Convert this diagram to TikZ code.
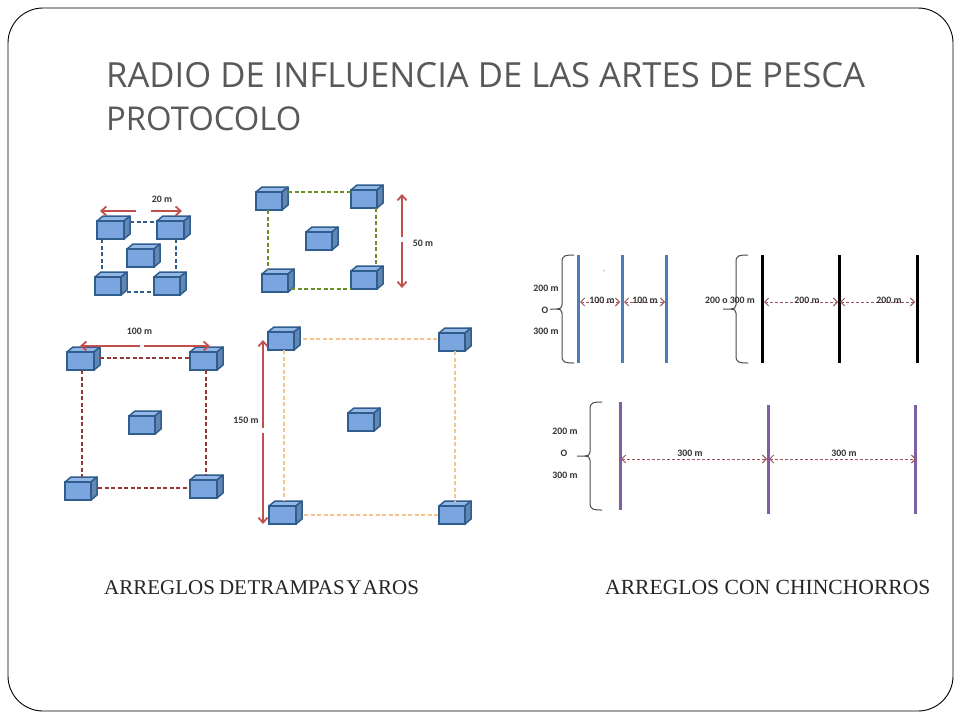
\documentclass[tikz,border=0pt]{standalone}
\usepackage{fontspec}
\setmainfont{Liberation Serif}
\newfontfamily\titlefont{Open Sans}
\newfontfamily\labelfont{Carlito}
\usetikzlibrary{arrows.meta}
\definecolor{cubefront}{HTML}{7BA5DE}
\definecolor{cubetop}{HTML}{95B7E6}
\definecolor{cubeside}{HTML}{6387B3}
\definecolor{cubeline}{HTML}{2F5D8E}
\definecolor{titlegray}{HTML}{595959}
\definecolor{dblue}{HTML}{2F5D8E}
\definecolor{dgreen}{HTML}{6B8E2A}
\definecolor{dred}{HTML}{953735}
\definecolor{dorange}{HTML}{F9C58E}
\definecolor{redarrow}{HTML}{C0504D}
\definecolor{thinarrow}{HTML}{A0525A}
\definecolor{lineblue}{HTML}{4A7EBB}
\definecolor{linepurple}{HTML}{7D5FA8}
\tikzset{
  x=1pt,y=-1pt,
  cubenode/.style={draw=cubeline,fill=cubefront,line width=1.5pt,inner sep=0pt,outer sep=0pt,minimum width=#1,minimum height=18pt,anchor=north west},
  cubenode/.default=26pt,
  cubeface/.style={draw=cubeline,line width=1.5pt,line join=round},
  gap/.style={dash pattern=on 4pt off 2.5pt,line width=#1},
  gap/.default=1.4pt,
  redarr/.style={draw=redarrow,line width=1.8pt,-{Straight Barb[length=5pt,width=9pt]}},
  spanarr/.style={draw=thinarrow,line width=.9pt,dash pattern=on 3pt off 2pt,{Straight Barb[length=4pt,width=8pt]}-{Straight Barb[length=4pt,width=8pt]}},
  sizelabel/.style={font=\labelfont\bfseries\fontsize{9.8}{11}\selectfont,text=black!80,inner sep=0pt},
  netline/.style={line width=3pt},
  bracepath/.style={draw=black!70,line width=1pt},
  caption/.style={font=\fontsize{21}{24}\selectfont,text=black!85,inner sep=0pt,anchor=base west},
}
% name, x, y, width of front face
\newcommand{\trapcube}[4]{%
  \fill[cubetop] (#2,#3) -- ++(6,-5) -- ++(#4,0) -- ++(-6,5) -- cycle;
  \draw[cubeface] (#2,#3) -- ++(6,-5) -- ++(#4,0) -- ++(-6,5);
  \filldraw[cubeface,fill=cubeside] (#2+#4,#3) -- ++(6,-5) -- ++(0,18) -- ++(-6,5) -- cycle;
  \node[cubenode=#4 pt] (#1) at (#2,#3) {};
}
% top x, tip x, y top, y mid, y bottom
\newcommand{\curlyb}[5]{%
  \draw[bracepath] (#1,#3) .. controls (#1-8,#3) and (#1-12,#3) .. (#1-12,#3+7)
    -- (#1-12,#4-4) .. controls (#1-12,#4-1) and (#1-14,#4) .. (#1-17,#4) -- (#2,#4);
  \draw[bracepath] (#1-17,#4) .. controls (#1-14,#4) and (#1-12,#4+1) .. (#1-12,#4+4)
    -- (#1-12,#5-7) .. controls (#1-12,#5) and (#1-8,#5) .. (#1,#5);
}
\begin{document}
\begin{tikzpicture}
\useasboundingbox (0,0) rectangle (960,720);
\fill[white] (0,0) rectangle (960,720);
\draw[black,line width=.9pt,rounded corners=35pt] (8,8) rectangle (953,711);

\node[font=\titlefont\fontsize{34.6}{43}\selectfont,text=titlegray,align=left,anchor=north west,inner sep=0pt] (title) at (106,62) {RADIO DE INFLUENCIA DE LAS ARTES DE PESCA\\{\fontsize{32.8}{43}\selectfont PROTOCOLO}};

% group 1
\trapcube{a1}{97}{221}{27}
\trapcube{a2}{157}{221}{27}
\trapcube{a3}{127}{249}{27}
\trapcube{a4}{95}{277}{26}
\trapcube{a5}{154}{277}{26}
\draw[dblue,gap] ([xshift=6pt,yshift=-1pt]a1.north east) -- ([yshift=-1pt]a2.north west);
\draw[dblue,gap] ([xshift=5pt]a1.south west) -- ([xshift=7pt,yshift=5pt]a4.north west);
\draw[dblue,gap] ([xshift=-8pt]a2.south east) -- ([xshift=22pt,yshift=5pt]a5.north west);
\draw[dblue,gap] ([xshift=6pt,yshift=3pt]a4.south east) -- ([yshift=3pt]a5.south west);
\coordinate (a1l) at (100,211); \coordinate (a1m) at (136,211);
\coordinate (a2m) at (151,211); \coordinate (a2r) at (182,211);
\draw[redarr] (a1m) -- (a1l);
\draw[redarr] (a2m) -- (a2r);
\node[sizelabel] (l20) at (162,199) {20 m};

% group 2
\trapcube{b1}{256}{192}{26}
\trapcube{b2}{351}{190}{26}
\trapcube{b3}{306}{232}{26}
\trapcube{b4}{262}{274}{26}
\trapcube{b5}{351}{271}{26}
\draw[dgreen,gap] ([xshift=6pt]b1.north east) -- ([yshift=-2pt]b2.north west);
\draw[dgreen,gap] ([xshift=12pt]b1.south west) -- ([xshift=6pt,yshift=5pt]b4.north west);
\draw[dgreen,gap] ([xshift=-1pt]b2.south east) -- ([xshift=25pt,yshift=5pt]b5.north west);
\draw[dgreen,gap] ([xshift=3pt,yshift=3pt]b4.south east) -- (b5.south west);
\coordinate (b6t) at (402,194); \coordinate (b6m) at (402,237);
\coordinate (b7m) at (402,242); \coordinate (b6b) at (402,288);
\draw[redarr] (b6m) -- (b6t);
\draw[redarr] (b7m) -- (b6b);
\node[sizelabel] (l50) at (423,243) {50 m};

% group 3
\trapcube{c1}{67}{352}{27}
\trapcube{c2}{190}{352}{27}
\trapcube{c3}{129}{416}{26}
\trapcube{c4}{65}{482}{26}
\trapcube{c5}{190}{480}{27}
\draw[dred,gap=1.6pt] ([xshift=6pt,yshift=-6pt]c1.north east) -- ([yshift=-6pt]c2.north west);
\draw[dred,gap=1.6pt] ([xshift=15pt]c1.south west) -- ([xshift=17pt,yshift=5pt]c4.north west);
\draw[dred,gap=1.6pt] ([xshift=-11pt]c2.south east) -- ([xshift=16pt,yshift=5pt]c5.north west);
\draw[dred,gap=1.6pt] ([xshift=7pt,yshift=-6pt]c4.north east) -- ([yshift=-8pt]c5.north west);
\coordinate (c1l) at (80,346); \coordinate (c1m) at (140,346);
\coordinate (c2m) at (144,346); \coordinate (c2r) at (210,346);
\draw[redarr] (c1m) -- (c1l);
\draw[redarr] (c2m) -- (c2r);
\node[sizelabel] (l100) at (139.5,331) {100 m};

% group 4
\trapcube{d1}{268}{332}{26}
\trapcube{d2}{439}{333}{26}
\trapcube{d3}{348}{413}{26}
\trapcube{d4}{269}{506}{27}
\trapcube{d5}{439}{506}{26}
\draw[dorange,gap=1.4pt] ([xshift=9pt,yshift=-7pt]d1.north east) -- ([yshift=-6pt]d2.north west);
\draw[dorange,gap=1.4pt] ([xshift=16pt]d1.south west) -- ([xshift=15pt,yshift=5pt]d4.north west);
\draw[dorange,gap=1.4pt] ([xshift=16pt]d2.south west) -- ([xshift=16pt,yshift=5pt]d5.north west);
\draw[dorange,gap=1.4pt] ([xshift=8pt,yshift=-9pt]d4.north east) -- ([yshift=-9pt]d5.north west);
\coordinate (d1t) at (263,340); \coordinate (d1m) at (263,428);
\coordinate (d2m) at (263,433); \coordinate (d2b) at (263,524);
\draw[redarr] (d1m) -- (d1t);
\draw[redarr] (d2m) -- (d2b);
\node[sizelabel] (l150) at (246,420) {150 m};

% blue nets
\foreach \n/\xx in {e1/578,e2/622,e3/666}{
  \coordinate (\n t) at (\xx,255); \coordinate (\n b) at (\xx,363);
  \draw[lineblue,netline] (\n t) -- (\n b);
}
\curlyb{574}{550}{255}{309}{363}
\node[sizelabel] (e200) at (546,288) {200 m};
\node[sizelabel] (eo) at (545,310) {O};
\node[sizelabel] (e300) at (546,331) {300 m};
\coordinate (ea1) at (580,302); \coordinate (ea2) at (620,302);
\coordinate (ea3) at (624,302); \coordinate (ea4) at (665,302);
\draw[spanarr] (ea1) -- (ea2);
\draw[spanarr] (ea3) -- (ea4);
\node[sizelabel] (e100a) at (602,300) {100 m};
\node[sizelabel] (e100b) at (645,300) {100 m};
\node[font=\fontsize{6}{6}\selectfont,inner sep=0pt] (etick) at (604,273) {'};

% black nets
\foreach \n/\xx in {f1/762,f2/839,f3/917}{
  \coordinate (\n t) at (\xx,255); \coordinate (\n b) at (\xx,363);
  \draw[black,netline] (\n t) -- (\n b);
}
\curlyb{748}{723}{255}{309}{363}
\node[sizelabel] (f200) at (730,300) {200 o 300 m};
\coordinate (fa1) at (764,302); \coordinate (fa2) at (838,302);
\coordinate (fa3) at (840,302); \coordinate (fa4) at (915,302);
\draw[spanarr] (fa1) -- (fa2);
\draw[spanarr] (fa3) -- (fa4);
\node[sizelabel] (f200a) at (807,300) {200 m};
\node[sizelabel] (f200b) at (889,300) {200 m};

% purple nets
\coordinate (g1t) at (620,402); \coordinate (g1b) at (620,510);
\coordinate (g2t) at (768,405); \coordinate (g2b) at (768,514);
\coordinate (g3t) at (915,405); \coordinate (g3b) at (915,514);
\draw[linepurple,netline] (g1t) -- (g1b);
\draw[linepurple,netline] (g2t) -- (g2b);
\draw[linepurple,netline] (g3t) -- (g3b);
\curlyb{602}{577}{402}{456}{510}
\node[sizelabel] (g200) at (565,431) {200 m};
\node[sizelabel] (go) at (564,453) {O};
\node[sizelabel] (g300) at (565,475) {300 m};
\coordinate (ga1) at (621,459); \coordinate (ga2) at (767,459);
\coordinate (ga3) at (769,459); \coordinate (ga4) at (916,459);
\draw[spanarr] (ga1) -- (ga2);
\draw[spanarr] (ga3) -- (ga4);
\node[sizelabel] (g300a) at (690,453) {300 m};
\node[sizelabel] (g300b) at (844,453) {300 m};

\node[caption] (cap1) at (104,594) {ARREGLOS\hspace{4pt}DE\hspace{.5pt}TRAMPAS\hspace{1.5pt}Y\hspace{1.5pt}AROS};
\node[caption,font=\fontsize{21.6}{24}\selectfont] (cap2) at (605,594) {ARREGLOS CON CHINCHORROS};
\end{tikzpicture}
\end{document}
